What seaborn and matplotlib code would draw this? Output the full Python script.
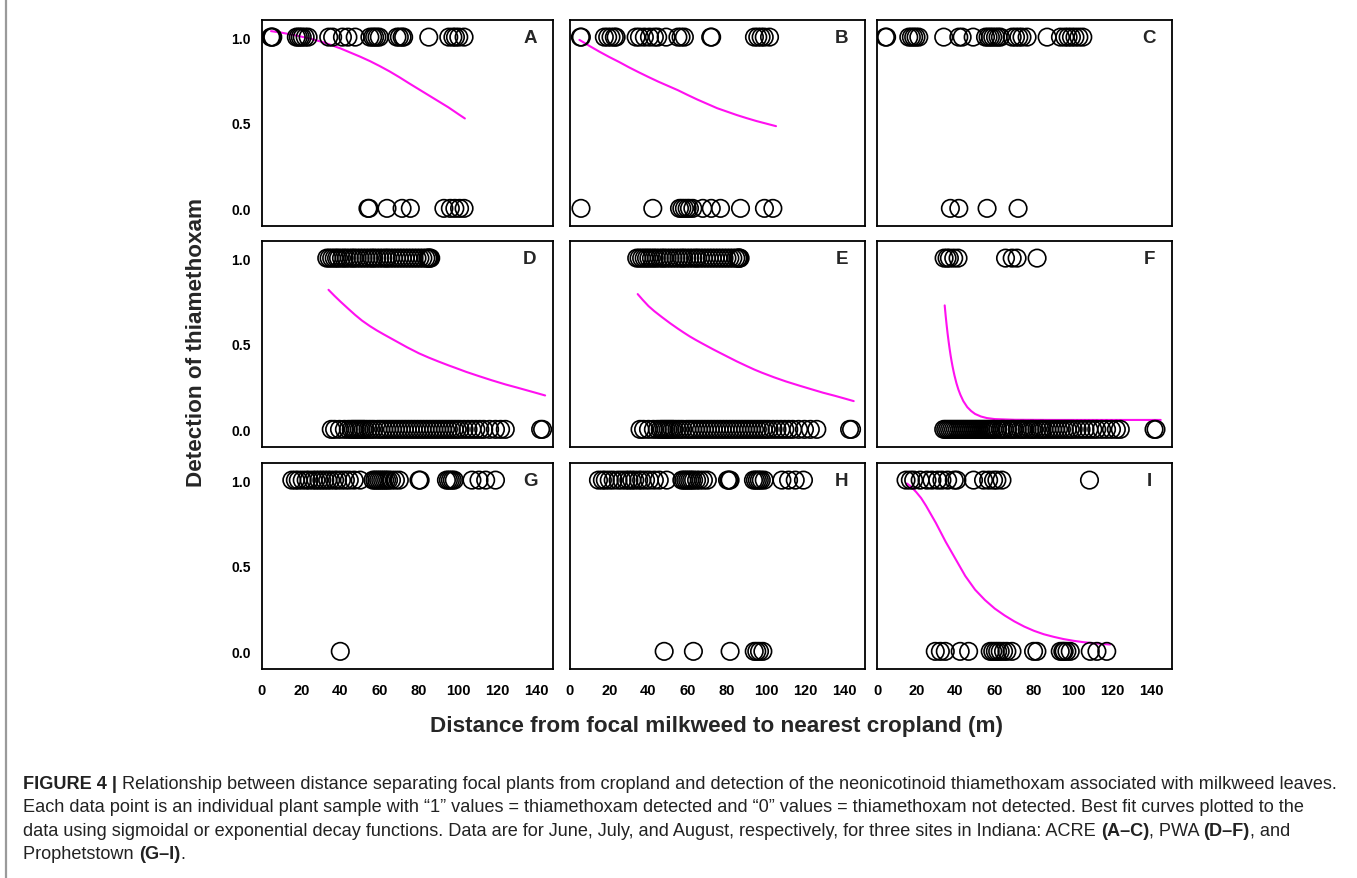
import numpy as np
import pandas as pd
import matplotlib
matplotlib.use('Agg')
import matplotlib.pyplot as plt
import seaborn as sns
from matplotlib.lines import Line2D

sns.set_style('white')
plt.rcParams['font.family'] = ['Liberation Sans', 'DejaVu Sans']

# ---------------- data ----------------
panels = ['A', 'B', 'C', 'D', 'E', 'F', 'G', 'H', 'I']

A_detected = [4.5, 5.0, 5.5, 17.5, 18.5, 19.5, 20.5, 22.0, 23.5, 34.0, 36.0, 41.0, 43.8, 47.5,
              55.0, 56.4, 57.4, 58.6, 59.8, 68.8, 70.0, 71.4, 72.2, 85.0, 95.2, 97.3, 98.6, 100.3, 103.0]
A_not = [54.0, 54.6, 63.7, 71.4, 75.6, 92.7, 96.0, 98.3, 100.7, 103.0]
B_detected = [5.3, 5.8, 17.5, 19.2, 20.9, 22.6, 23.5, 33.7, 35.4, 37.9, 40.5, 43.0, 44.7, 49.0,
              55.0, 56.6, 58.3, 71.7, 72.2, 94.0, 95.7, 97.4, 99.0, 101.7]
B_not = [5.6, 42.2, 55.8, 57.0, 58.3, 59.7, 60.9, 62.6, 67.7, 72.0, 76.7, 86.9, 99.1, 103.4]
C_detected = [4.3, 4.9, 16.2, 17.5, 18.7, 19.9, 21.3, 34.0, 41.7, 43.4, 49.0, 55.3, 56.6, 57.8,
              59.0, 60.4, 61.7, 62.9, 68.9, 70.6, 72.3, 73.9, 76.5, 86.7, 93.5, 95.7, 97.4, 99.1,
              100.9, 102.9, 104.9]
C_not = [37.4, 41.7, 56.1, 71.9]
D_detected = [33.0, 34.2, 35.5, 36.8, 38.0, 39.0, 40.5, 41.8, 43.0, 44.5, 46.0, 47.0, 48.5, 50.0,
              51.5, 53.0, 54.5, 56.0, 57.0, 58.5, 60.0, 61.5, 63.0, 64.0, 65.5, 67.0, 68.5, 70.0,
              71.5, 73.0, 74.5, 76.0, 77.5, 79.0, 80.5, 82.0, 83.5, 84.5, 85.0, 85.5, 86.0]
D_not = [35.3, 37.0, 39.5, 42.0, 44.0, 45.5, 46.5, 47.5, 48.5, 49.5, 50.5, 51.5, 52.5, 54.0, 55.5,
         57.0, 59.0, 60.5, 62.0, 63.5, 65.0, 66.5, 68.0, 69.5, 71.0, 72.5, 74.0, 75.5, 77.0, 78.5,
         80.0, 81.5, 83.0, 84.5, 86.0, 87.5, 89.0, 90.5, 92.0, 93.5, 95.0, 96.5, 98.0, 99.5, 101.0,
         103.0, 105.0, 107.0, 109.0, 111.0, 113.0, 116.0, 119.0, 121.6, 124.0, 142.0, 143.0]
E_detected = [34.0, 35.2, 36.5, 37.8, 39.0, 40.2, 41.5, 42.8, 44.0, 45.5, 47.0, 48.0, 49.5, 51.0,
              52.5, 54.0, 55.5, 57.0, 58.0, 59.5, 61.0, 62.5, 64.0, 65.0, 66.5, 68.0, 69.5, 71.0,
              72.5, 74.0, 75.5, 77.0, 78.5, 80.0, 81.5, 83.0, 84.5, 85.5, 86.0, 86.4, 86.7]
E_not = [35.7, 37.5, 40.0, 42.5, 44.5, 46.0, 47.0, 48.0, 49.0, 50.0, 51.0, 52.0, 53.0, 54.5, 56.0,
         57.5, 59.5, 61.0, 62.5, 64.0, 65.5, 67.0, 68.5, 70.0, 71.5, 73.0, 74.5, 76.0, 77.5, 79.0,
         80.5, 82.0, 83.5, 85.0, 86.5, 88.0, 89.5, 91.0, 92.5, 94.0, 95.5, 97.0, 98.5, 100.0, 101.5,
         103.5, 105.5, 107.5, 109.5, 111.5, 113.5, 116.5, 119.5, 122.5, 125.8, 142.5, 143.5]
F_detected = [34.2, 35.7, 36.9, 39.1, 41.3, 65.5, 68.9, 71.4, 81.6]
F_not = [34.0, 35.0, 36.0, 37.0, 38.0, 39.0, 40.0, 41.0, 42.0, 43.0, 44.0, 45.0, 46.0, 47.0, 48.0,
         49.0, 50.0, 51.0, 52.0, 53.0, 54.0, 55.0, 56.0, 57.0, 58.0, 59.0, 60.0, 61.5, 63.0, 64.0,
         65.0, 66.5, 68.0, 69.0, 70.0, 71.5, 73.0, 74.0, 75.0, 76.5, 78.0, 79.0, 80.0, 81.5, 83.0,
         84.0, 85.0, 86.5, 88.0, 89.5, 91.0, 92.5, 94.0, 95.5, 97.0, 98.5, 100.0, 102.0, 104.0,
         106.0, 108.0, 110.0, 112.0, 114.5, 117.0, 119.5, 122.0, 124.0, 141.2, 142.2]
G_detected = [15.2, 17.0, 18.5, 20.5, 22.5, 24.0, 26.0, 27.5, 29.0, 30.5, 32.0, 33.5, 35.0, 37.0,
              38.5, 40.5, 42.5, 44.5, 47.0, 50.0, 56.5, 57.5, 58.5, 59.5, 60.5, 61.5, 62.5, 63.5,
              64.5, 66.0, 68.0, 70.0, 80.0, 80.6, 94.0, 95.0, 96.0, 97.0, 98.0, 107.0, 110.6, 114.0,
              119.0]
G_not = [39.9]
H_detected = [14.5, 16.5, 18.0, 20.0, 22.0, 24.5, 26.5, 28.5, 30.0, 31.5, 33.0, 35.0, 36.5, 38.5,
              40.5, 43.0, 45.5, 49.3, 57.0, 58.0, 59.0, 60.0, 61.0, 62.0, 63.0, 64.5, 66.0, 68.0,
              70.0, 80.3, 81.0, 81.6, 93.5, 94.5, 95.5, 96.5, 97.5, 99.0, 108.0, 111.4, 114.8, 119.0]
H_not = [48.0, 62.9, 81.6, 93.9, 95.2, 96.6, 98.3]
I_detected = [14.8, 17.0, 18.7, 22.0, 25.5, 28.0, 30.9, 33.1, 36.0, 39.4, 40.7, 49.2, 54.3, 56.9,
              59.4, 61.1, 63.7, 108.3]
I_not = [29.7, 32.3, 34.8, 42.4, 46.7, 57.7, 59.0, 60.3, 61.5, 62.8, 64.5, 66.2, 68.8, 79.8, 81.5,
         93.4, 94.7, 95.4, 96.8, 98.5, 108.7, 112.1, 117.1]

# best-fit curves, points
A_curve_x = [4.6, 10, 15, 20, 25, 30, 35, 40, 45, 50, 55, 60, 65, 70, 75, 80, 85, 90, 95, 100, 103.4]
A_curve_y = [1.035, 1.026, 1.015, 1.003, 0.99, 0.974, 0.955, 0.934, 0.91, 0.886, 0.86, 0.831,
             0.80, 0.766, 0.73, 0.695, 0.66, 0.625, 0.59, 0.551, 0.525]
B_curve_x = [4.8, 10, 15, 20, 25, 30, 35, 40, 45, 50, 55, 60, 65, 70, 75, 80, 85, 90, 95, 100, 105]
B_curve_y = [0.984, 0.948, 0.915, 0.884, 0.855, 0.824, 0.795, 0.767, 0.74, 0.715, 0.69, 0.662,
             0.635, 0.61, 0.585, 0.565, 0.545, 0.527, 0.51, 0.495, 0.48]
D_curve_x = [33.9, 37, 40, 44, 47.5, 51, 55, 58.5, 62, 65, 68, 74, 80, 85, 90, 95, 98.6, 104, 110,
             117, 124.2, 130, 135, 140, 144.3]
D_curve_y = [0.815, 0.779, 0.746, 0.704, 0.668, 0.635, 0.603, 0.578, 0.555, 0.536, 0.517, 0.479,
             0.444, 0.419, 0.396, 0.374, 0.359, 0.336, 0.313, 0.287, 0.262, 0.244, 0.228, 0.212,
             0.198]
E_curve_x = [34.5, 37, 40, 43, 46.8, 51, 55, 58, 61, 64, 67, 73, 80, 85, 90, 94, 97.8, 104, 110,
             117, 123.4, 129, 135, 140, 144.6]
E_curve_y = [0.79, 0.757, 0.72, 0.69, 0.656, 0.62, 0.588, 0.565, 0.543, 0.523, 0.504, 0.467, 0.426,
             0.397, 0.37, 0.349, 0.331, 0.304, 0.28, 0.255, 0.233, 0.214, 0.196, 0.18, 0.165]
F_curve_x = [34.5, 35.0, 35.5, 36.0, 36.5, 37.0, 37.5, 38.0, 38.5, 39.0, 39.5, 40.5, 41.5, 42.5,
             44, 46, 48, 50, 53, 56, 60, 70, 90, 144.6]
F_curve_y = [0.724, 0.663, 0.608, 0.558, 0.513, 0.471, 0.433, 0.399, 0.368, 0.340, 0.314, 0.269,
             0.232, 0.202, 0.165, 0.130, 0.107, 0.090, 0.075, 0.066, 0.060, 0.056, 0.055, 0.055]
I_curve_x = [15.3, 17.5, 20, 22.5, 25, 27.5, 30, 32.5, 35, 37.5, 40, 42.5, 45, 47.5, 50, 52.5, 55,
             60, 65, 70, 75, 80, 85, 90, 95, 100, 105, 110, 115, 118.8]
I_curve_y = [0.98, 0.96, 0.93, 0.895, 0.85, 0.80, 0.75, 0.695, 0.64, 0.59, 0.54, 0.49, 0.44, 0.40,
             0.36, 0.33, 0.30, 0.25, 0.21, 0.175, 0.145, 0.12, 0.10, 0.085, 0.072, 0.062, 0.054,
             0.048, 0.043, 0.04]

detected = {'A': A_detected, 'B': B_detected, 'C': C_detected, 'D': D_detected, 'E': E_detected,
            'F': F_detected, 'G': G_detected, 'H': H_detected, 'I': I_detected}
not_detected = {'A': A_not, 'B': B_not, 'C': C_not, 'D': D_not, 'E': E_not, 'F': F_not,
                'G': G_not, 'H': H_not, 'I': I_not}
curves = {'A': (A_curve_x, A_curve_y), 'B': (B_curve_x, B_curve_y), 'D': (D_curve_x, D_curve_y),
          'E': (E_curve_x, E_curve_y), 'F': (F_curve_x, F_curve_y), 'I': (I_curve_x, I_curve_y)}

x_ticks = [0, 20, 40, 60, 80, 100, 120, 140]
y_ticks = [0.0, 0.5, 1.0]
y_ticklabels = ['0.0', '0.5', '1.0']

x_label = 'Distance from focal milkweed to nearest cropland (m)'
y_label = 'Detection of thiamethoxam'

# ---------------- layout ----------------
W, H = 1357, 879
fig = plt.figure(figsize=(W / 100, H / 100), dpi=100)
fig.patch.set_facecolor('white')

col_left = [262, 570, 877]
col_width = [291, 295, 295]
row_top = [21, 242, 464]
ax_h = 206
px_per_unit = 1.962


def fx(px):
    return px / W


def fy(py):
    return 1 - py / H


for i, p in enumerate(panels):
    r, c = divmod(i, 3)
    left, width, top = col_left[c], col_width[c], row_top[r]
    ax = fig.add_axes([fx(left), fy(top + ax_h), width / W, ax_h / H])
    df = pd.DataFrame({
        'distance': detected[p] + not_detected[p],
        'detection': [1.0] * len(detected[p]) + [0.0] * len(not_detected[p]),
    })
    sns.scatterplot(data=df, x='distance', y='detection', ax=ax, s=158,
                    facecolors='none', edgecolor='black', linewidth=1.2,
                    legend=False, zorder=3)
    if p in curves:
        cx, cy = curves[p]
        sns.lineplot(x=cx, y=cy, ax=ax, color='#FF10F0', linewidth=1.5, zorder=2)
    xmax = width / px_per_unit
    ax.set_xlim(0, xmax)
    ax.set_ylim(-0.103, 1.1)
    ax.set_xlabel('')
    ax.set_ylabel('')
    for s in ax.spines.values():
        s.set_linewidth(1.3)
        s.set_color('black')
    ax.set_xticks(x_ticks)
    ax.set_yticks(y_ticks)
    ax.tick_params(direction='out', length=5, width=1.0, colors='black')
    if c == 0:
        ax.set_yticklabels(y_ticklabels, fontsize=10, fontweight='bold')
        ax.tick_params(axis='y', pad=3)
    else:
        ax.tick_params(axis='y', left=False, labelleft=False)
    if r == 2:
        ax.set_xticklabels([str(t) for t in x_ticks], fontsize=10.5, fontweight='bold')
        ax.tick_params(axis='x', pad=5)
    else:
        ax.tick_params(axis='x', bottom=False, labelbottom=False)
    ax.text((width - 23) / px_per_unit, 1.0, p, fontsize=13.5, fontweight='bold',
            ha='center', va='center')

fig.text(fx(716), fy(727), x_label, fontsize=16.2, fontweight='bold', ha='center', va='center')
fig.text(fx(197), fy(343), y_label, fontsize=16.2, fontweight='bold', ha='center', va='center',
         rotation=90)

# left edge of the page frame
fig.add_artist(Line2D([fx(6), fx(6)], [0, 1], color='#9a9a9a', linewidth=1.6))

# ---------------- caption ----------------
renderer = fig.canvas.get_renderer()

caption_lines = [
    [("FIGURE 4 |", 'bold'),
     (" Relationship between distance separating focal plants from cropland and detection of the "
      "neonicotinoid thiamethoxam associated with milkweed leaves.", 'normal')],
    [("Each data point is an individual plant sample with \u201c1\u201d values = thiamethoxam detected "
      "and \u201c0\u201d values = thiamethoxam not detected. Best fit curves plotted to the", 'normal')],
    [("data using sigmoidal or exponential decay functions. Data are for June, July, and August, "
      "respectively, for three sites in Indiana: ACRE ", 'normal'), ("(A\u2013C)", 'bold'),
     (", PWA ", 'normal'), ("(D\u2013F)", 'bold'), (", and", 'normal')],
    [("Prophetstown ", 'normal'), ("(G\u2013I)", 'bold'), (".", 'normal')],
]


def text_width(s, size, weight):
    # advance width including leading/trailing spaces, measured with sentinel characters
    t = fig.text(0, 0, '|' + s + '|', fontsize=size, fontweight=weight)
    w1 = t.get_window_extent(renderer).width
    t.set_text('||')
    w0 = t.get_window_extent(renderer).width
    t.remove()
    return w1 - w0


def line_width(segs, size):
    return sum(text_width(s, size, w) for s, w in segs)


base = 12.0
w_line1 = line_width(caption_lines[0], base)
cap_size = base * 1315.0 / w_line1

baselines = [789, 812, 836, 859]
for segs, yb in zip(caption_lines, baselines):
    x = 23.0
    for s, w in segs:
        fig.text(fx(x), fy(yb), s, fontsize=cap_size, fontweight=w, ha='left', va='baseline',
                 color='#222222')
        x += text_width(s, cap_size, w)

fig.savefig('out.png', dpi=100, facecolor='white')
